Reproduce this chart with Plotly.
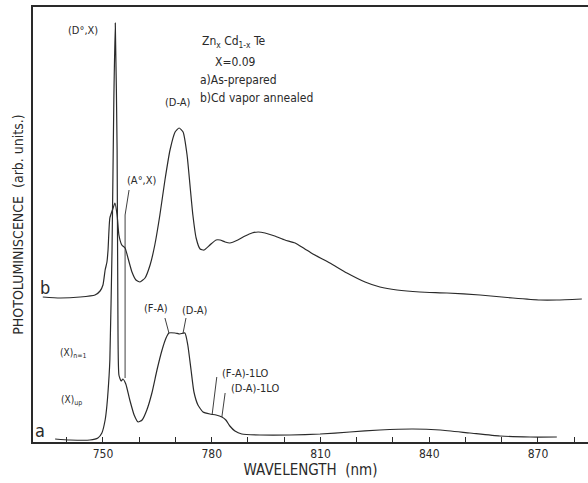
import plotly.graph_objects as go

# Curve b: Cd vapor annealed (offset upward)
wl_b = [733.4, 738.1, 743.7, 747.8, 749.2, 750.0, 750.6, 751.1, 751.4, 751.9, 752.8, 753.3,
        753.9, 754.4, 755.2, 756.1, 756.9, 758.0, 759.1, 760.2, 761.6, 763.0, 764.3, 765.7,
        767.1, 768.5, 769.9, 771.0, 772.1, 773.2, 774.0, 774.8, 775.7, 776.8, 777.9, 779.5,
        781.2, 782.3, 783.7, 785.0, 787.2, 789.2, 791.1, 792.8, 794.7, 797.4, 800.2, 803.0,
        805.7, 807.9, 812.6, 817.3, 822.3, 826.4, 831.1, 837.4, 844.9, 854.0, 863.1, 870.6,
        875.2, 882.1]
pl_b = [145, 144, 145, 147, 151, 157, 172, 180, 192, 224, 234, 239,
        227, 207, 197, 194, 184, 170, 162, 160, 164, 177, 197, 227,
        262, 292, 310, 314, 310, 287, 257, 227, 204, 193, 192, 197,
        202, 202, 200, 199, 202, 206, 209, 210, 209, 206, 202, 199,
        193, 188, 179, 169, 160, 155, 152, 150, 149, 147, 144, 142,
        142, 143]

# Curve a: as-prepared
wl_a = [736.8, 740.9, 746.4, 748.6, 749.7, 750.6, 751.1, 751.7, 751.9, 752.5, 753.0, 753.4,
        753.9, 754.1, 754.4, 755.0, 755.5, 756.3, 757.4, 758.6, 759.7, 760.8, 762.1, 763.5,
        764.9, 766.3, 767.4, 768.2, 769.9, 771.2, 772.6, 773.4, 774.3, 775.1, 776.2, 777.6,
        779.5, 781.2, 782.8, 783.9, 785.0, 786.4, 788.3, 793.3, 801.6, 809.9, 818.1, 826.4,
        835.5, 843.0, 851.2, 859.5, 867.8, 875.2]
pl_a = [3, 2, 2, 4, 9, 22, 37, 67, 82, 192, 342, 419,
        292, 142, 67, 61, 63, 58, 42, 27, 20, 22, 32, 49,
        72, 92, 104, 109, 109, 108, 109, 97, 72, 50, 37, 30,
        28, 27, 25, 22, 16, 11, 8, 7, 7, 8, 10, 12,
        13, 12, 9, 6, 5, 5]

tick_vals = [740, 750, 760, 770, 780, 790, 800, 810, 820, 830, 840, 850, 860, 870, 880]
tick_text = ["", "750", "", "", "780", "", "", "810", "", "", "840", "", "", "870", ""]

INK = "#2a2a2a"
FONT = "DejaVu Sans Condensed, DejaVu Sans, sans-serif"

fig = go.Figure()
for wl, pl, name in [(wl_b, pl_b, "b"), (wl_a, pl_a, "a")]:
    fig.add_trace(go.Scatter(x=wl, y=pl, mode="lines", name=name,
                             line=dict(color=INK, width=1.2, shape="spline", smoothing=0.5),
                             showlegend=False, hoverinfo="skip"))

def txt(x, y, s, size=11, anchor="center"):
    fig.add_annotation(x=x, y=y, text=s, showarrow=False, xanchor=anchor, yanchor="middle",
                       font=dict(family=FONT, size=size, color=INK))

txt(744.5, 412, "(D°,X)")
txt(776.8, 400, "Zn<sub>x</sub> Cd<sub>1-x</sub> Te", 12, "left")
txt(780.3, 380, "X=0.09", 12, "left")
txt(776.2, 362, "a)As-prepared", 12, "left")
txt(776.2, 344, "b)Cd vapor annealed", 12, "left")
txt(770.7, 340, "(D-A)")
txt(760.5, 262, "(A°,X)")
txt(734.0, 155, "b", 18)
txt(732.6, 12, "a", 18)
txt(764.6, 134, "(F-A)")
txt(775.4, 132, "(D-A)")
txt(741.7, 89, "(X)<sub>n=1</sub>", 10)
txt(741.4, 42, "(X)<sub>up</sub>", 10)
txt(789.4, 69, "(F-A)-1LO")
txt(791.9, 54, "(D-A)-1LO")

def seg(pts):
    path = "M " + " L ".join(f"{x},{y}" for x, y in pts)
    fig.add_shape(type="path", path=path, xref="x", yref="y",
                  line=dict(color=INK, width=0.9))

seg([(757.2, 252), (756.1, 227), (756.1, 64)])
seg([(767.1, 124), (768.2, 109)])
seg([(772.9, 124), (772.1, 109)])
seg([(781.4, 65), (780.1, 27)])
seg([(783.7, 49), (782.8, 25)])

fig.update_layout(
    width=588, height=483,
    margin=dict(l=33, r=0, t=7, b=41, autoexpand=False),
    paper_bgcolor="white", plot_bgcolor="white",
    font=dict(family=FONT, color=INK),
    xaxis=dict(range=[730.7, 883.8], tickvals=tick_vals, ticktext=tick_text,
               ticks="inside", ticklen=5, tickcolor=INK, tickwidth=1,
               showline=True, linecolor=INK, linewidth=1.5, mirror=True,
               showgrid=False, zeroline=False, automargin=False,
               tickfont=dict(size=12, family=FONT, color=INK),
               title=dict(text="WAVELENGTH  (nm)", standoff=2,
                          font=dict(size=15, family=FONT, color=INK))),
    yaxis=dict(range=[0, 435], showticklabels=False, ticks="",
               showline=True, linecolor=INK, linewidth=1.5, mirror=False,
               showgrid=False, zeroline=False, automargin=False,
               title=dict(text="PHOTOLUMINISCENCE  (arb. units.)", standoff=4,
                          font=dict(size=14, family=FONT, color=INK))),
)

fig.write_html("out.html", config={"displayModeBar": False},
               post_script="document.body.style.margin='0';document.body.style.overflow='hidden';")
